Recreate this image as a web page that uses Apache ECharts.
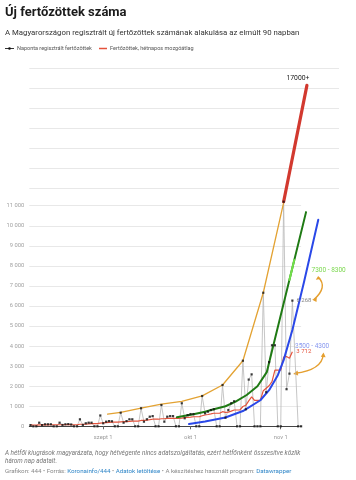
<!DOCTYPE html>
<html><head><meta charset="utf-8">
<script src="https://cdn.jsdelivr.net/npm/echarts@6/dist/echarts.min.js"></script>
<style>html,body{margin:0;padding:0;background:#fff}#c{width:356px;height:480px}</style>
</head><body><div id="c"></div>
<script>
// day index: 0 = 2020-08-01
const firstDay = 6;
const dailyCases = [
  60, 0, 0,                                  // aug 7-9
  180, 60, 100, 100, 100, 0, 0,              // aug 10-16
  180, 65, 100, 110, 90, 0, 0,
  350, 65, 150, 180, 180, 0, 0,
  540, 150, 230, 260, 250, 0, 0,             // aug 31 - sep 6
  680, 180, 260, 350, 350, 0, 0,
  900, 230, 350, 480, 510, 0, 0,
  1060, 230, 480, 510, 510, 0, 0,
  1150, 400, 560, 610, 610, 0, 0,            // sep 28 - oct 4
  1510, 650, 730, 810, 850, 0, 0,
  2060, 430, 810, 1150, 1250, 0, 0,
  3270, 850, 2330, 2590, 0, 0, 0,
  6660, 1700, 3200, 4040, 4040, 0, 0,        // oct 26 - nov 1
  11200, 1850, 2626, 6268, null, 0, 0        // nov 2 - nov 8
];
const movingAverage = [
  70, 65, 62,
  75, 74, 72, 71, 77, 77, 77,
  77, 78, 78, 79, 78, 78, 78,
  102, 102, 109, 119, 132, 132, 132,
  159, 171, 183, 194, 204, 204, 204,
  224, 229, 233, 246, 260, 260, 260,
  291, 299, 311, 330, 353, 353, 353,
  376, 376, 394, 399, 399, 399, 399,
  411, 436, 447, 461, 476, 476, 476,
  527, 563, 587, 616, 650, 650, 650,
  729, 697, 709, 757, 814, 814, 814,
  987, 1047, 1264, 1470, 1291, 1291, 1291,
  1776, 1897, 2021, 2229, 2806, 2806, 2806,
  3454, 3476, 3394, 3712
];
const tickDays = [31, 61, 92];
const tickLabels = ['szept 1', 'okt 1', 'nov 1'];
const annotatedDay = 96;
// hand-drawn trend lines: [day, value]
const orangeTrend = [[32.5,610],[37,690],[44,910],[51,1110],[58,1240],[65,1520],[72,2060],[79,3270],[86,6660],[93,11150]];
const greenTrend = [[56.3,450],[62,600],[66,730],[69,850],[73,1000],[76.5,1230],[80.3,1560],[84,2000],[87.2,2700],[100.7,10680]];
const greenRange = [[94.98,7300],[96.67,8300]];
const blueTrend = [[60.5,110],[66,240],[73,440],[79,760],[85,1300],[88,1800],[91,2550],[93,3300],[96,4800],[100,7200],[104.9,10300]];
const redProjection = [[93,11200],[101,17000]];
const greenRangeText = '7300 - 8300';
const blueRangeText = '3500 - 4300';

const FONT = 'Roboto';
const fmt = v => String(Math.round(v)).replace(/\B(?=(\d{3})+(?!\d))/g, ' ');

// layout
const W = 356, gridLeft = 29.3, gridRight = 54.9, wideRight = 17;
const xMin = 5.6, xMax = 99;
const pxPerDay = (W - gridLeft - gridRight) / (xMax - xMin);
const xMaxWide = xMin + (W - gridLeft - wideRight) / pxPerDay;

const dailyData = dailyCases.map((v, i) => [firstDay + i, v]);
const dotData = dailyData.filter(p => p[1] !== null).map(p => p[0] === annotatedDay ? {
  value: p, label: {show: true, position: 'right', distance: 3, formatter: q => fmt(q.value[1]), color: '#666', fontSize: 6, fontFamily: FONT}
} : p);
const maData = movingAverage.map((v, i) => [firstDay + i, v]);
const redData = redProjection.map((p, i) => i === redProjection.length - 1 ? {
  value: p, label: {show: true, position: 'top', distance: 3, offset: [-9, 0], formatter: q => q.value[1] + '+', color: '#222', fontSize: 6.8, fontFamily: FONT}
} : p);

const chart = echarts.init(document.getElementById('c'), null, {renderer: 'canvas'});
const trend = (data, color, width, z) => ({type: 'line', data, symbol: 'none', clip: false, silent: true, z,
  xAxisIndex: 2, yAxisIndex: 2, lineStyle: {color, width, cap: 'round', join: 'round'}, animation: false});

const arrowHead = (pts) => ({type: 'polygon', shape: {points: pts}, style: {fill: '#e59f2f'}, silent: true});

chart.setOption({
  animation: false,
  textStyle: {fontFamily: FONT},
  title: [
    {text: 'Új fertőzöttek száma', left: 5, top: 6.5, padding: 0,
     textStyle: {fontFamily: FONT, fontSize: 13, fontWeight: 'bold', color: '#1b1b1b'}},
    {text: 'A Magyarországon regisztrált új fertőzöttek számának alakulása az elmúlt 90 napban', left: 5, top: 29, padding: 0,
     textStyle: {fontFamily: FONT, fontSize: 7.8, fontWeight: 'normal', color: '#333'}},
    {text: 'A hétfői kiugrások magyarázata, hogy hétvégente nincs adatszolgáltatás, ezért hétfőnként összesítve közlik\nhárom nap adatait.',
     left: 5, top: 449, padding: 0,
     textStyle: {fontFamily: FONT, fontSize: 6.4, fontStyle: 'italic', fontWeight: 'normal', color: '#777', lineHeight: 8.5}},
    {text: 'Grafikon: 444 • Forrás: {l|Koronainfo/444} • {l|Adatok letöltése} • A készítéshez használt program: {l|Datawrapper}',
     left: 5, top: 468, padding: 0,
     textStyle: {fontFamily: FONT, fontSize: 6.2, fontWeight: 'normal', color: '#8a8a8a',
       rich: {l: {color: '#2f86c8', fontSize: 6.2, fontFamily: FONT}}}}
  ],
  grid: [
    {left: gridLeft, right: gridRight, top: 205.7, bottom: 53.7, containLabel: false},
    {left: gridLeft, right: wideRight, top: 68.3, height: 120, containLabel: false},
    {left: gridLeft, right: wideRight, top: 205.7, bottom: 53.7, containLabel: false}
  ],
  xAxis: [
    {type: 'value', gridIndex: 0, min: xMin, max: xMax,
     axisLine: {show: true, lineStyle: {color: '#444', width: 1}},
     axisTick: {show: true, customValues: tickDays, length: 3, lineStyle: {color: '#666'}},
     axisLabel: {show: true, customValues: tickDays, margin: 8, color: '#9a9a9a', fontSize: 5.8, fontFamily: FONT,
       formatter: v => tickLabels[tickDays.indexOf(Math.round(v))] || ''},
     splitLine: {show: false}},
    {type: 'value', gridIndex: 1, min: 0, max: 1, show: false},
    {type: 'value', gridIndex: 2, min: xMin, max: xMaxWide, show: false}
  ],
  yAxis: [
    {type: 'value', gridIndex: 0, min: 0, max: 11000, interval: 1000,
     axisLine: {show: false}, axisTick: {show: false},
     axisLabel: {color: '#a0a0a0', fontSize: 5.8, fontFamily: FONT, margin: 5, formatter: v => fmt(v)},
     splitLine: {show: true, lineStyle: {color: '#e8e8e8', width: 1}}},
    {type: 'value', gridIndex: 1, min: 0, max: 6, interval: 1,
     axisLine: {show: false}, axisTick: {show: false}, axisLabel: {show: false},
     splitLine: {show: true, lineStyle: {color: '#e8e8e8', width: 1}}},
    {type: 'value', gridIndex: 2, min: 0, max: 11000, show: false}
  ],
  series: [
    {type: 'line', name: 'Naponta regisztrált fertőzöttek', data: dailyData, symbol: 'none', connectNulls: true, clip: false, silent: true,
     lineStyle: {color: '#b8b8b8', width: 0.8}, z: 1},
    {type: 'line', name: 'Fertőzöttek, hétnapos mozgóátlag', data: maData, symbol: 'none', silent: true, clip: false,
     lineStyle: {color: '#e4533c', width: 1.2}, z: 2,
     endLabel: {show: true, distance: 4, formatter: p => fmt(p.value[1]), color: '#e4533c', fontSize: 6, fontFamily: FONT}},
    trend(orangeTrend, '#e3a232', 1.3, 3),
    trend(blueTrend, '#2a48e8', 2, 3),
    trend(greenTrend, '#1f7a14', 2, 3),
    trend(greenRange, '#72e04a', 2, 4),
    Object.assign(trend(redData, '#d2392f', 3.2, 5), {symbol: 'circle', symbolSize: 1, showSymbol: true, itemStyle: {color: '#d2392f'}}),
    {type: 'scatter', data: dotData, symbol: 'rect', symbolSize: 2.2, silent: true, clip: false,
     itemStyle: {color: '#111'}, z: 6}
  ],
  graphic: [
    // legend
    {type: 'line', shape: {x1: 5, y1: 48.5, x2: 14, y2: 48.5}, style: {stroke: '#333', lineWidth: 1}, silent: true},
    {type: 'circle', shape: {cx: 9.5, cy: 48.5, r: 1.3}, style: {fill: '#111'}, silent: true},
    {type: 'text', left: 17, top: 45.5, style: {text: 'Naponta regisztrált fertőzöttek', fill: '#555', fontSize: 5.5, fontFamily: FONT}, silent: true},
    {type: 'line', shape: {x1: 99, y1: 48.5, x2: 107, y2: 48.5}, style: {stroke: '#e4533c', lineWidth: 1.5}, silent: true},
    {type: 'text', left: 110, top: 45.5, style: {text: 'Fertőzöttek, hétnapos mozgóátlag', fill: '#555', fontSize: 5.5, fontFamily: FONT}, silent: true},
    // annotations
    {type: 'text', x: 311.5, y: 267, style: {text: greenRangeText, fill: '#7bd84e', fontSize: 6.5, fontFamily: FONT}, silent: true},
    {type: 'text', x: 295, y: 343, style: {text: blueRangeText, fill: '#8797ef', fontSize: 6.5, fontFamily: FONT}, silent: true},
    {type: 'bezierCurve', shape: {x1: 318.5, y1: 277.5, x2: 314, y2: 299.5, cpx1: 328, cpy1: 287}, style: {stroke: '#e59f2f', lineWidth: 1.4, fill: null}, silent: true},
    arrowHead([[315.8, 279.8], [318.2, 276], [320.8, 279.0]]),
    arrowHead([[316.8, 297.2], [312.2, 299.8], [316.5, 302.0]]),
    {type: 'bezierCurve', shape: {x1: 323.3, y1: 354.5, x2: 295, y2: 373.3, cpx1: 322, cpy1: 370}, style: {stroke: '#e59f2f', lineWidth: 1.4, fill: null}, silent: true},
    arrowHead([[320.8, 356.8], [323.5, 352.5], [325.6, 357.2]]),
    arrowHead([[297.6, 370.6], [293.2, 374.0], [298.2, 375.6]])
  ]
});
</script></body></html>
